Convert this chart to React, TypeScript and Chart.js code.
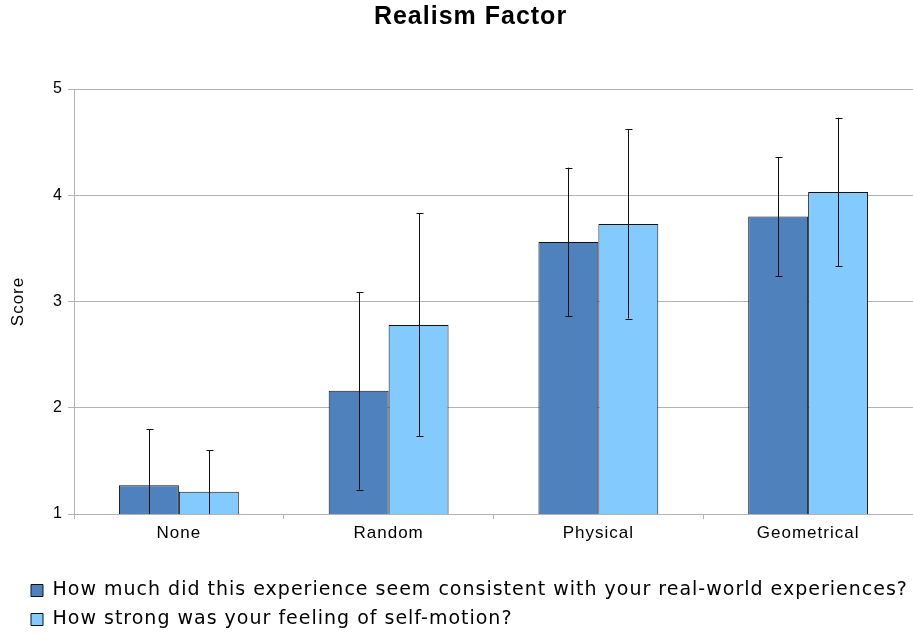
import React, { useEffect, useRef } from "react";
import { Chart, registerables } from "chart.js";

Chart.register(...registerables);

const TITLE = "Realism Factor";
const Y_TITLE = "Score";
const categories = ["None", "Random", "Physical", "Geometrical"];
const seriesNames = [
  "How much did this experience seem consistent with your real-world experiences?",
  "How strong was your feeling of self-motion?",
];
const consistencyMeans = [1.27, 2.16, 3.56, 3.8];
const consistencySD = [0.53, 0.93, 0.7, 0.56];
const selfMotionMeans = [1.21, 2.78, 3.73, 4.03];
const selfMotionSD = [0.39, 1.05, 0.89, 0.7];
const yMin = 1;
const yMax = 5;
const yStep = 1;

const seriesColors = ["#4f81bd", "#83caff"];
const sdList = [consistencySD, selfMotionSD];
const LETTER_SPACING = "1px";

const spacingPlugin = {
  id: "letterSpacing",
  beforeLayout(chart: any) {
    try {
      chart.ctx.letterSpacing = LETTER_SPACING;
    } catch (e) {}
  },
  beforeDraw(chart: any) {
    try {
      chart.ctx.letterSpacing = LETTER_SPACING;
    } catch (e) {}
  },
};

const errorBarPlugin = {
  id: "errorBars",
  afterDatasetsDraw(chart: any) {
    const { ctx, chartArea } = chart;
    const yScale = chart.scales.y;
    ctx.save();
    ctx.beginPath();
    ctx.rect(chartArea.left, chartArea.top, chartArea.right - chartArea.left, chartArea.bottom - chartArea.top);
    ctx.clip();
    ctx.strokeStyle = "#111";
    ctx.lineWidth = 1;
    chart.data.datasets.forEach((ds: any, di: number) => {
      const meta = chart.getDatasetMeta(di);
      const sds = sdList[di];
      meta.data.forEach((bar: any, i: number) => {
        const v = ds.data[i];
        const sd = sds[i];
        const x = Math.round(bar.x) + 0.5;
        const yHi = yScale.getPixelForValue(v + sd);
        const yLo = yScale.getPixelForValue(v - sd);
        ctx.beginPath();
        ctx.moveTo(x, yHi);
        ctx.lineTo(x, yLo);
        ctx.moveTo(x - 3, Math.round(yHi) + 0.5);
        ctx.lineTo(x + 4, Math.round(yHi) + 0.5);
        ctx.moveTo(x - 3, Math.round(yLo) + 0.5);
        ctx.lineTo(x + 4, Math.round(yLo) + 0.5);
        ctx.stroke();
      });
    });
    ctx.restore();
  },
};

const titlePlugin = {
  id: "customTitle",
  afterDraw(chart: any) {
    const { ctx } = chart;
    ctx.save();
    ctx.font = 'bold 25px "Liberation Sans", Arial, sans-serif';
    try {
      (ctx as any).letterSpacing = "1px";
    } catch (e) {}
    ctx.fillStyle = "#000";
    ctx.textAlign = "center";
    ctx.textBaseline = "middle";
    ctx.fillText(TITLE, 470.5, 17);
    ctx.restore();
  },
};

const legendShiftPlugin = {
  id: "legendShift",
  afterLayout(chart: any) {
    const l = chart.legend;
    if (l) {
      l.left += 21;
      l.right += 21;
      l.top += 4;
      l.bottom += 4;
    }
  },
};

export default function App() {
  const canvasRef = useRef<HTMLCanvasElement | null>(null);

  useEffect(() => {
    if (!canvasRef.current) return;
    const chart = new Chart(canvasRef.current, {
      type: "bar",
      data: {
        labels: categories,
        datasets: [
          {
            label: seriesNames[0],
            data: consistencyMeans,
            backgroundColor: seriesColors[0],
            borderColor: "#111",
            borderWidth: 1,
          },
          {
            label: seriesNames[1],
            data: selfMotionMeans,
            backgroundColor: seriesColors[1],
            borderColor: "#111",
            borderWidth: 1,
          },
        ],
      },
      options: {
        animation: false,
        responsive: true,
        maintainAspectRatio: false,
        layout: { padding: { top: 89, left: 0, right: -1, bottom: 0 } },
        datasets: {
          bar: { categoryPercentage: 120 / 210, barPercentage: 1 },
        },
        plugins: {
          title: { display: false },
          tooltip: { enabled: false },
          legend: {
            display: true,
            position: "bottom",
            align: "start",
            labels: {
              boxWidth: 12,
              boxHeight: 12,
              padding: 10,
              color: "#000",
              font: { family: '"DejaVu Sans", sans-serif', size: 19 },
            },
          },
        },
        scales: {
          x: {
            grid: {
              display: true,
              drawOnChartArea: false,
              drawTicks: true,
              tickLength: 5,
              color: "#b3b3b3",
            },
            border: { display: false },
            ticks: {
              color: "#000",
              padding: 4,
              font: { family: '"Liberation Sans", Arial, sans-serif', size: 17 },
            },
            afterFit(scale: any) {
              scale.height = 53;
            },
          },
          y: {
            min: yMin,
            max: yMax,
            ticks: {
              stepSize: yStep,
              color: "#000",
              padding: 5,
              font: { family: '"Liberation Sans", Arial, sans-serif', size: 16 },
            },
            grid: { color: "#b3b3b3", tickLength: 6 },
            border: { display: true, color: "#b3b3b3" },
            title: {
              display: true,
              text: Y_TITLE,
              color: "#000",
              padding: { top: 8, bottom: 0 },
              font: { family: '"Liberation Sans", Arial, sans-serif', size: 17 },
            },
            afterFit(scale: any) {
              scale.width = 74;
            },
          },
        },
      },
      plugins: [spacingPlugin, errorBarPlugin, titlePlugin, legendShiftPlugin],
    });
    return () => chart.destroy();
  }, []);

  return (
    <div style={{ position: "fixed", left: 0, top: 0, width: 913, height: 635, background: "#fff" }}>
      <canvas ref={canvasRef} />
    </div>
  );
}
